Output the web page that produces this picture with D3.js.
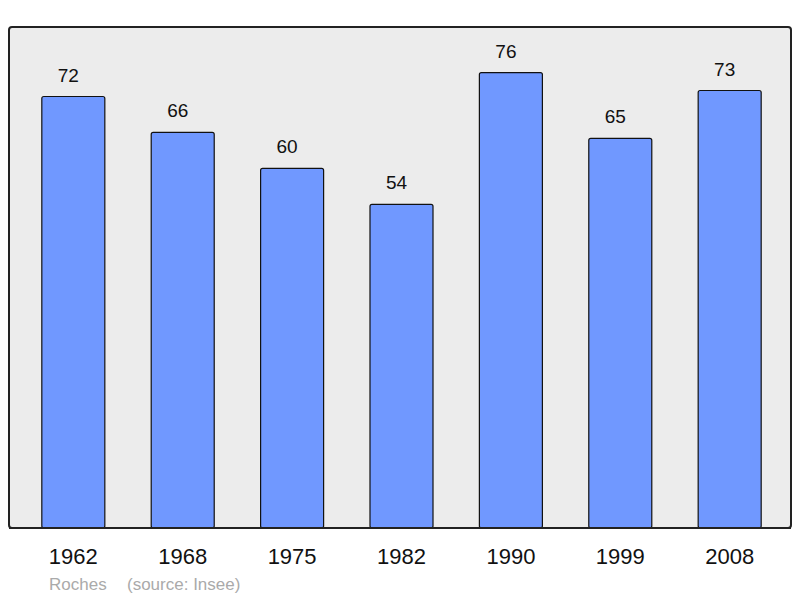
<!DOCTYPE html>
<html><head><meta charset="utf-8">
<script src="https://cdn.jsdelivr.net/npm/d3@7"></script>
<style>body{margin:0;background:#fff}svg{display:block}</style>
</head><body>
<svg id="c" width="800" height="598"></svg>
<script>
const years = ["1962","1968","1975","1982","1990","1999","2008"];
const population = [72,66,60,54,76,65,73];
const commune = "Roches";
const source = "(source: Insee)";

const svg = d3.select("#c");
const frame = {x0: 9, x1: 791, y0: 27, y1: 528};
const x = d3.scaleBand().domain(years).range([9, 794]).paddingInner(0.424).paddingOuter(0.3);
const y = d3.scaleLinear().domain([0, d3.max(population) * 1.1]).range([frame.y1, frame.y0]);

svg.append("rect").attr("x", frame.x0).attr("y", frame.y0)
  .attr("width", frame.x1 - frame.x0).attr("height", frame.y1 - frame.y0)
  .attr("rx", 3).attr("fill", "#ececec").attr("stroke", "#222").attr("stroke-width", 2);

svg.selectAll("rect.bar").data(population).join("rect").attr("class", "bar")
  .attr("x", (d, i) => x(years[i])).attr("width", x.bandwidth())
  .attr("y", d => y(d)).attr("height", d => y(0) - y(d))
  .attr("rx", 2).attr("fill", "#7098ff").attr("stroke", "#111").attr("stroke-width", 1.2);

svg.append("line").attr("x1", frame.x0).attr("x2", frame.x1).attr("y1", frame.y1).attr("y2", frame.y1)
  .attr("stroke", "#222").attr("stroke-width", 2);

svg.selectAll("text.val").data(population).join("text").attr("class", "val")
  .attr("x", (d, i) => x(years[i]) + x.bandwidth() / 2 - 5).attr("y", d => y(d) - 15)
  .attr("text-anchor", "middle").attr("font-family", "Liberation Sans, Arial, sans-serif")
  .attr("font-size", 19).attr("fill", "#111").text(d => d);

const xAxis = svg.append("g").attr("transform", `translate(0,${frame.y1})`)
  .call(d3.axisBottom(x).tickSize(0).tickPadding(20));
xAxis.select(".domain").remove();
xAxis.selectAll("text").attr("font-family", "Liberation Sans, Arial, sans-serif")
  .attr("font-size", 22).attr("fill", "#111");

svg.append("text").attr("x", 49).attr("y", 590).attr("font-family", "Liberation Sans, Arial, sans-serif")
  .attr("font-size", 17).attr("fill", "#aaaaaa").text(commune);
svg.append("text").attr("x", 127).attr("y", 590).attr("font-family", "Liberation Sans, Arial, sans-serif")
  .attr("font-size", 17).attr("fill", "#aaaaaa").text(source);
</script>
</body></html>
